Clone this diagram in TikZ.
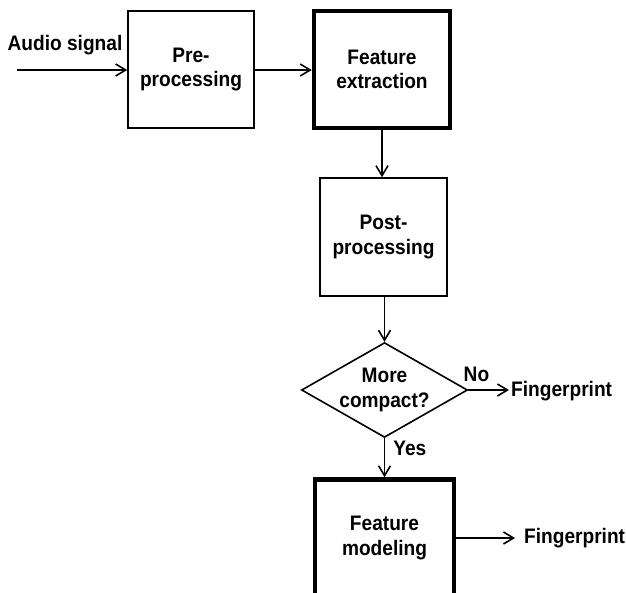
\documentclass[tikz,border=0pt]{standalone}
\usepackage{fontspec}
\setmainfont[FakeStretch=0.91]{Liberation Sans}
\usepackage{tikz}
\usetikzlibrary{
  positioning,
  shapes.geometric,
  arrows.meta
}

\tikzset{
  block/.style={draw,line width=1.6pt,inner sep=0pt,align=center,
    minimum width=126pt,minimum height=117pt},
  thickblock/.style={block,line width=4.5pt},
  decision/.style={draw,diamond,line width=1.6pt,inner sep=0pt,align=center,
    aspect=1.75,minimum width=165pt,minimum height=94pt},
  lbl/.style={inner sep=2pt,align=center},
  conn/.style={->,line width=1.6pt}
}

\begin{document}
\begin{tikzpicture}[x=1pt,y=-1pt,>={Straight Barb[length=10pt,width=12pt]},
                    every node/.style={font=\fontsize{21}{24.5}\selectfont\bfseries}]
                \useasboundingbox (0,0) rectangle (626,592);
                \node[block] (pre) at (191,69.5) {Pre-\\processing};
                \node[thickblock,minimum width=136pt] (fext) at (382,69.5) {Feature\\extraction};
                \node[block,minimum width=127pt,minimum height=118pt] (post) at (383.5,237) {Post-\\processing};
                \node[decision] (compact) at (384.5,390) {More\\compact?};
                % bottom of the last box runs off the page
                \node[thickblock,minimum width=139pt] (fmod) at (384.5,538) {Feature\\modeling};
                \node[lbl,anchor=south] (audio) at (65,57) {Audio signal};
                \node[lbl,anchor=west] (fp1) at (509,391) {Fingerprint};
                \node[lbl,anchor=west] (fp2) at (522,538) {Fingerprint};
                \coordinate (src) at (17,70);
                \draw[conn] (src) -- (pre.west |- src);
                \draw[conn] (pre.east |- src) -- (fext.west |- src);
                \draw[conn] (fext.south) -- (fext.south |- post.north);
                \draw[conn] (post.south -| compact.north) -- (compact.north);
                \draw[conn] (compact.east) -- (fp1.west |- compact.east) node[lbl,pos=0.2,above,yshift=6pt] (no) {No};
                \draw[conn] (compact.south) -- (fmod.north) node[lbl,pos=0.25,right,xshift=6pt] (yes) {Yes};
                \draw[conn,shorten >=7pt] (fmod.east |- fp2.west) -- (fp2.west);
            \end{tikzpicture}
\end{document}
